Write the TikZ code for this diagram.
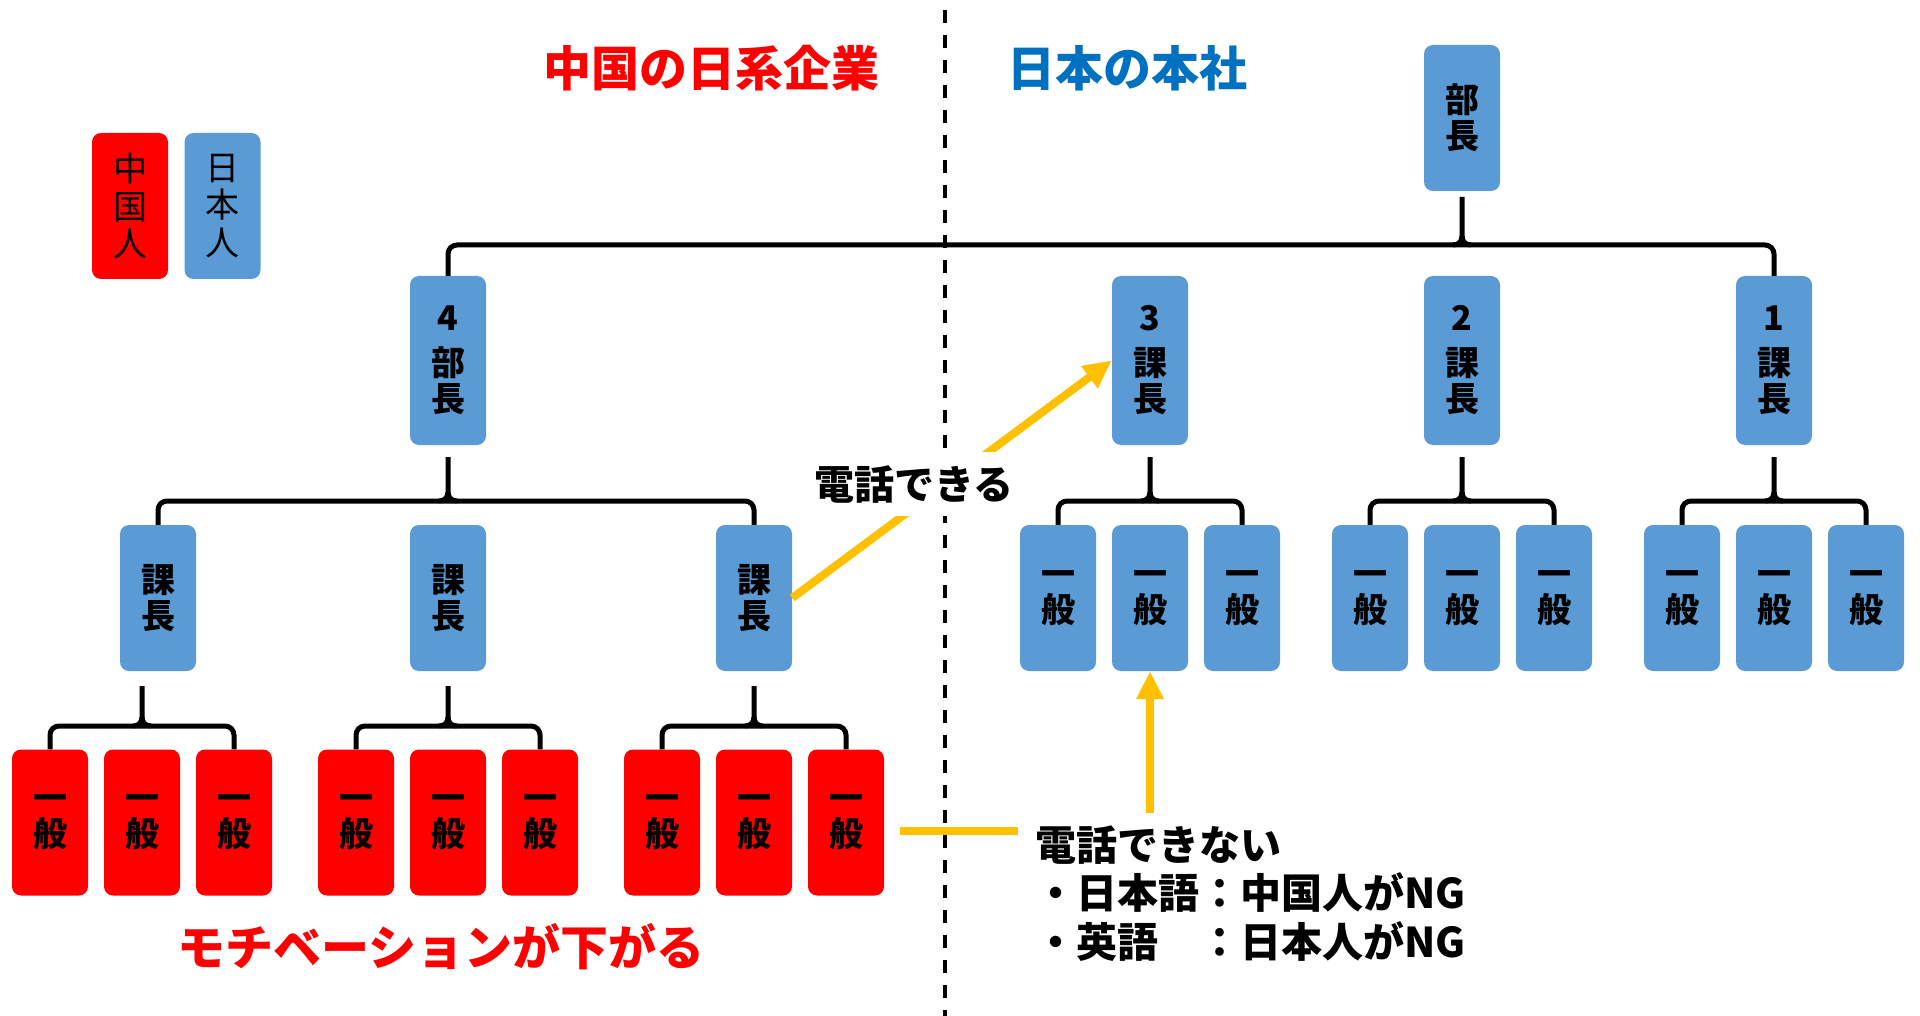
\documentclass[tikz,border=0pt]{standalone}
\usepackage{fontspec}
\setmainfont{Noto Sans CJK JP}
\usetikzlibrary{arrows.meta,calc}
\definecolor{boxblue}{HTML}{5B9BD5}
\definecolor{boxred}{HTML}{FF0000}
\definecolor{arrowyellow}{HTML}{FFC000}
\definecolor{titleblue}{HTML}{0070C0}
\definecolor{titlered}{HTML}{FF0000}
\tikzset{
  box/.style={rounded corners=9pt, minimum width=76pt, minimum height=146pt, inner sep=0pt,
    align=center, font=\fontsize{34}{36}\selectfont\bfseries},
  bluebox/.style={box, fill=boxblue},
  redbox/.style={box, fill=boxred},
  tallbox/.style={minimum height=169pt},
  legendbox/.style={box, font=\fontsize{34}{37.5}\selectfont},
  brk/.style={line width=5pt, black},
  yel/.style={draw=arrowyellow, line width=8pt},
  yelarrow/.style={yel, -{Triangle[length=28pt,width=26pt]}},
  titletext/.style={font=\fontsize{48}{52}\selectfont\bfseries, inner sep=0pt},
  calltext/.style={font=\fontsize{41}{44}\selectfont\bfseries, inner sep=0pt},
  divider/.style={line width=3.5pt, dash pattern=on 13pt off 12pt, dash phase=15pt},
}
% #1 left child, #2 right child, #3 node giving the stem x, #4 bar y, #5 stem top y
\newcommand{\orgbar}[5]{%
  \draw[brk, rounded corners=9pt] (#1.north) -- (#1.north |- 0,#4) -- (#2.north |- 0,#4) -- (#2.north);
  \draw[brk] (#3.south |- 0,#5) -- ($(#3.south |- 0,#4)+(0,-9)$)
    .. controls +(0,6) and +(5,0) .. ($(#3.south |- 0,#4)+(-9,0)$);
  \draw[brk] ($(#3.south |- 0,#4)+(0,-9)$)
    .. controls +(0,6) and +(-5,0) .. ($(#3.south |- 0,#4)+(9,0)$);
}
\begin{document}
\begin{tikzpicture}[x=1pt,y=-1pt]
\useasboundingbox (0,0) rectangle (1920,1016);

% titles
\node[titletext, text=titlered] (tcn) at (711,68) {中国の日系企業};
\node[titletext, text=titleblue] (tjp) at (1127,68) {日本の本社};

% legend
\node[legendbox, fill=boxred] (lcn) at (130,206) {中\\国\\人};
\node[legendbox, fill=boxblue] (ljp) at (222.5,206) {日\\本\\人};

% level 1
\node[bluebox] (bu) at (1462,118) {部\\長};

% level 2
\node[bluebox, tallbox] (m4) at (448,360.5) {4\\[9pt]部\\長};
\node[bluebox, tallbox] (m3) at (1150,360.5) {3\\[9pt]課\\長};
\node[bluebox, tallbox] (m2) at (1462,360.5) {2\\[9pt]課\\長};
\node[bluebox, tallbox] (m1) at (1774,360.5) {1\\[9pt]課\\長};

% level 3 left
\node[bluebox] (k1) at (158,598) {課\\長};
\node[bluebox] (k2) at (448,598) {課\\長};
\node[bluebox] (k3) at (754,598) {課\\長};

% level 3 right
\node[bluebox] (j31) at (1058,598) {一\\般};
\node[bluebox] (j32) at (1150,598) {一\\般};
\node[bluebox] (j33) at (1242,598) {一\\般};
\node[bluebox] (j21) at (1370,598) {一\\般};
\node[bluebox] (j22) at (1462,598) {一\\般};
\node[bluebox] (j23) at (1554,598) {一\\般};
\node[bluebox] (j11) at (1682,598) {一\\般};
\node[bluebox] (j12) at (1774,598) {一\\般};
\node[bluebox] (j13) at (1866,598) {一\\般};

% level 4
\node[redbox] (g11) at (50,822.5) {一\\般};
\node[redbox] (g12) at (142,822.5) {一\\般};
\node[redbox] (g13) at (234,822.5) {一\\般};
\node[redbox] (g21) at (356,822.5) {一\\般};
\node[redbox] (g22) at (448,822.5) {一\\般};
\node[redbox] (g23) at (540,822.5) {一\\般};
\node[redbox] (g31) at (662,822.5) {一\\般};
\node[redbox] (g32) at (754,822.5) {一\\般};
\node[redbox] (g33) at (846,822.5) {一\\般};

% yellow connectors
\draw[yelarrow] (k3.east) -- (m3.west);
\coordinate (vstart) at (1150,813);
\draw[yelarrow] (vstart) -- (j32.south);
\coordinate (hl) at (900,831);
\coordinate (hr) at (1018,831);
\draw[yel] (hl) -- (hr);

% divider
\coordinate (dtop) at (945,0);
\coordinate (dbot) at (945,1016);
\draw[divider] (dtop) -- (dbot);

% brackets
\orgbar{m4}{m1}{bu}{245}{197}
\orgbar{k1}{k3}{m4}{501}{457}
\orgbar{j31}{j33}{m3}{501}{457}
\orgbar{j21}{j23}{m2}{501}{457}
\orgbar{j11}{j13}{m1}{501}{457}
\orgbar{g11}{g13}{g12}{726}{686}
\orgbar{g21}{g23}{k2}{726}{686}
\orgbar{g31}{g33}{k3}{726}{686}

% labels
\node[calltext, fill=white, minimum width=206pt, minimum height=64pt, font=\fontsize{40}{44}\selectfont\bfseries] (can) at (914,484) {電話できる};
\node[calltext, anchor=base west] (cant1) at (1035,860) {電話できない};
\node[calltext, anchor=base west] (cant2) at (1035,908) {・日本語：中国人がNG};
\node[calltext, anchor=base west] (cant3) at (1035,957) {・英語　：日本人がNG};

\node[titletext, text=titlered] (motiv) at (441,947) {モチベーションが下がる};
\end{tikzpicture}
\end{document}
